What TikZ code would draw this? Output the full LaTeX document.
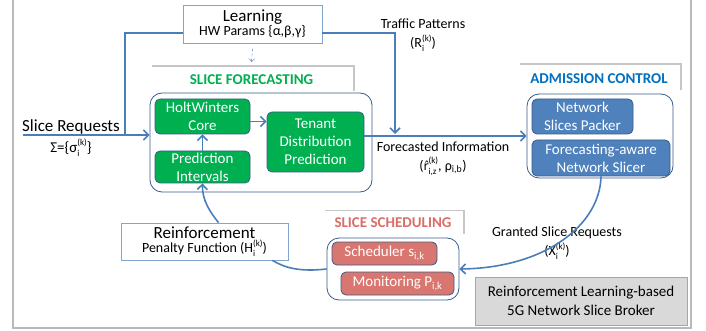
\documentclass[tikz,border=0pt]{standalone}
\usepackage{fontspec}
\setmainfont{Carlito}
\newfontfamily\dejavu{DejaVu Sans}
\usetikzlibrary{arrows.meta,shadows}

\definecolor{linkblue}{RGB}{74,126,187}
\definecolor{edgeblue}{RGB}{56,93,138}
\definecolor{fcgreen}{RGB}{0,176,80}
\definecolor{acblue}{RGB}{79,129,189}
\definecolor{ssred}{RGB}{217,118,112}
\definecolor{actitle}{RGB}{0,112,192}
\definecolor{sstitle}{RGB}{217,110,105}

\newcommand{\idxsize}{\fontsize{9}{9}\selectfont}
\newcommand{\subsup}[2]{\rlap{\raisebox{-0.6ex}{\idxsize #1}}\raisebox{0.95ex}{\idxsize #2}}
\newcommand{\rhat}{{\dejavu\fontsize{12}{12}\selectfont r̂}}

\tikzset{
  inner/.style={draw=edgeblue, thick, rounded corners=5pt, text=white, align=center,
    font=\fontsize{15}{18}\selectfont, inner sep=0pt},
  group/.style={draw=edgeblue, thick, fill=white, rounded corners=12pt, inner sep=0pt},
  titlebox/.style={fill=white, general shadow={fill=gray!45, shadow xshift=1.5pt, shadow yshift=1.5pt},
    font=\fontsize{15}{18}\selectfont\bfseries, inner sep=0pt},
  plainbox/.style={draw=linkblue!70, thick, fill=white, align=center, inner sep=0pt},
  lbl/.style={align=center, font=\fontsize{14}{19}\selectfont, inner sep=0pt},
  conn/.style={draw=linkblue, line width=1.6pt},
  arr/.style={conn, -{Straight Barb[length=5pt,width=10pt]}},
  dasharr/.style={draw=linkblue, densely dashed, thin, -{Straight Barb[length=3pt,width=6pt]}}
}

\begin{document}
\begin{tikzpicture}[x=1pt,y=-1pt]
    \useasboundingbox (0,0) rectangle (706,331);

    % outer frame
    \draw[gray!55, line width=1.6pt] (13,0) -- (13,328) -- (691,328) -- (691,0);

    % learning and reinforcement
    \node[plainbox, minimum width=139pt, minimum height=38pt] (learn) at (252.5,24)
        {{\fontsize{17}{20}\selectfont Learning}\\{\fontsize{14}{17}\selectfont HW Params \{α,β,γ\}}};
    \node[plainbox, minimum width=167pt, minimum height=37pt] (reinf) at (204.5,241.5)
        {{\fontsize{17}{20}\selectfont Reinforcement}\\{\fontsize{14}{17}\selectfont Penalty Function (H\subsup{i}{(k)})}};

    % slice forecasting
    \node[titlebox, text=fcgreen, minimum width=203pt, minimum height=26pt] (fctitle) at (251.5,80) {SLICE FORECASTING};
    \node[group, minimum width=222pt, minimum height=99pt] (fcbox) at (261,142.5) {};
    \begin{scope}[every node/.style={inner, fill=fcgreen}]
        \node[minimum width=95pt, minimum height=35pt] (hw) at (202.5,116.5) {HoltWinters\\Core};
        \node[minimum width=95pt, minimum height=32pt] (pi) at (202.5,167) {Prediction\\Intervals};
        \node[minimum width=97pt, minimum height=60pt] (tdp) at (315.5,142) {Tenant\\Distribution\\Prediction};
    \end{scope}

    % admission control
    \node[titlebox, text=actitle, minimum width=162pt, minimum height=27pt] (actitle) at (599,78.5) {ADMISSION CONTROL};
    \node[group, minimum width=146pt, minimum height=84pt] (acbox) at (600,136) {};
    \begin{scope}[every node/.style={inner, fill=acblue}]
        \node[minimum width=101pt, minimum height=35pt] (nsp) at (582.5,116.5) {Network\\Slices Packer};
        \node[minimum width=138pt, minimum height=36pt] (fans) at (601,158) {Forecasting-aware\\Network Slicer};
    \end{scope}

    % slice scheduling
    \node[titlebox, text=sstitle, minimum width=140pt, minimum height=24pt] (sstitle) at (393,223) {SLICE SCHEDULING};
    \node[group, minimum width=132pt, minimum height=62pt] (ssbox) at (393,269) {};
    \begin{scope}[every node/.style={inner, fill=ssred}]
        \node[minimum width=105pt, minimum height=23pt] (sched) at (384.5,253.5) {Scheduler s\textsubscript{i,k}};
        \node[minimum width=113pt, minimum height=23pt] (mon) at (397.5,283.5) {Monitoring P\textsubscript{i,k}};
    \end{scope}

    % broker
    \node[draw=gray!70, fill=gray!30, align=center, inner sep=0pt, minimum width=212pt, minimum height=48pt,
        font=\fontsize{15}{19}\selectfont] (broker) at (581,301) {Reinforcement Learning-based\\5G Network Slice Broker};

    % labels
    \node[lbl, font=\fontsize{17}{19}\selectfont] (srtxt) at (71,127) {Slice Requests};
    \node[lbl, font=\fontsize{15}{19}\selectfont] (sigma) at (71,148) {Σ=\{σ\subsup{i}{(k)}\}};
    \node[lbl] (tptxt) at (423,35.5) {Traffic Patterns\\(R\subsup{i}{(k)})};
    \node[lbl] (fitxt) at (443,158.5) {Forecasted Information\\(\rhat\subsup{i,z}{(k)}, ρ\textsubscript{i,b})};
    \node[lbl] (gstxt) at (557,243) {Granted Slice Requests\\(X\subsup{i}{(k)})};

    \coordinate (sr) at (23,135);
    \coordinate (join) at (125,135);
    \coordinate (tp) at (395,134);

    % connectors
    \draw[arr] (sr) -- (sr -| fcbox.west);
    \draw[conn] ([yshift=-9pt]learn.west) -| (join);
    \draw[arr] ([yshift=-9pt]learn.east) -| (tp);
    \draw[dasharr] ([yshift=-5pt]learn.south) -- ([yshift=5pt]fctitle.north);
    \draw[arr] ([yshift=-5pt]hw.east) -- ([yshift=-5pt]hw.east -| tdp.west);
    \draw[arr] (pi.north) -- (hw.south);
    \draw[arr] (tdp.east |- acbox.west) -- (acbox.west);
    \draw[arr] (fans.south) .. controls (600,225) and (545,268) .. (ssbox.east);
    \draw[conn] (ssbox.west) .. controls (300,272) and (285,268) .. ([xshift=-16pt]reinf.south east);
    \draw[arr] ([xshift=14pt]reinf.north) .. controls (210,212) and (202,200) .. (pi.south);
\end{tikzpicture}
\end{document}
